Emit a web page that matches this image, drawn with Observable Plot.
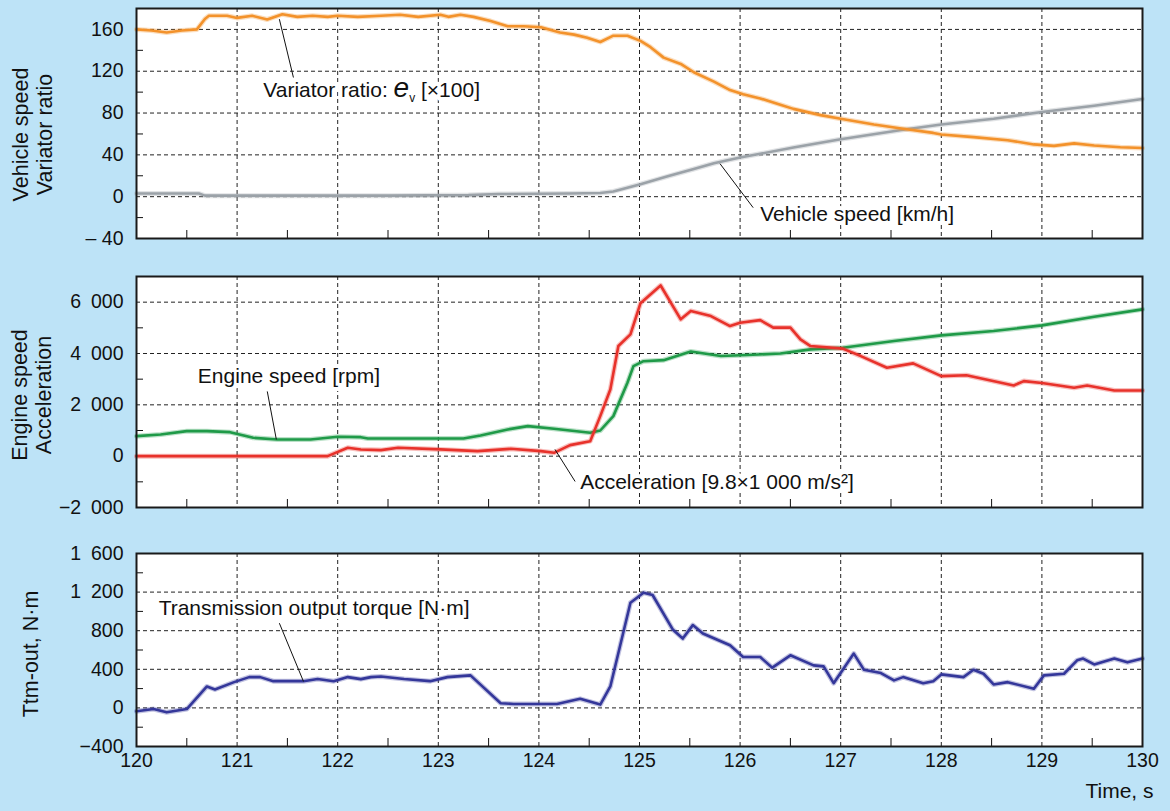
<!DOCTYPE html>
<html><head><meta charset="utf-8">
<script src="https://cdn.jsdelivr.net/npm/d3@7"></script>
<script src="https://cdn.jsdelivr.net/npm/@observablehq/plot@0.6"></script>
<style>
html,body{margin:0;padding:0;background:#bde3f7;}
#chart{position:relative;width:1170px;height:811px;background:#bde3f7;overflow:hidden;font-family:"Liberation Sans",Arial,sans-serif;}
#chart svg{position:absolute;left:0;}
</style></head><body><div id="chart"></div>
<script>
// ---------- time axis ----------
const timeTicks = [120,121,122,123,124,125,126,127,128,129,130];
const timeGrid = [121,122,123,124,125,126,127,128,129];
const timeMinor = [120.5,121.5,122.5,123.5,124.5,125.5,126.5,127.5,128.5,129.5];

// ---------- panel 1: variator ratio & vehicle speed ----------
const ratioT = [120.0,120.15,120.3,120.45,120.6,120.68,120.72,120.9,121.0,121.15,121.3,121.45,121.6,121.75,121.9,122.0,122.2,122.43,122.62,122.8,123.02,123.1,123.22,123.35,123.52,123.69,123.85,124.02,124.21,124.35,124.48,124.61,124.74,124.88,125.01,125.11,125.24,125.41,125.54,125.74,125.9,126.03,126.2,126.4,126.53,126.8,127.0,127.33,127.62,127.92,128.0,128.32,128.66,128.92,129.12,129.32,129.52,129.78,130.0];
const ratioV = [160,159,157,159,160,170,173,173,171,173,169.5,174.5,172,173,172,173,172,173,174,172,174,172,174,172,168,163,163,162,157,155,152,148,154,154,149,143,133,127,119,110,102,98,94,88,84,78,74.5,69,65,61,59.5,57,54,50,48.6,51,49,47.3,46.5];
const speedT = [120.0,120.62,120.68,121.5,122.5,123.3,123.6,124.3,124.61,124.74,125.01,125.28,125.54,125.74,126.0,126.2,126.53,127.0,127.62,128.0,128.52,129.0,129.52,130.0];
const speedV = [3,3,1,1,1,1.5,2.5,3,3.5,5,12,19.5,26.5,32,37.5,41,47,55,64,69,74.5,81,87,93.5];
const y1Ticks = [-40,0,40,80,120,160];
const y1Labels = ["\u2013 40","0","40","80","120","160"];
const y1Grid = [0,40,80,120,160];
const y1Minor = [-20,20,60,100,140];

// ---------- panel 2: engine speed & acceleration ----------
const engineT = [120.0,120.24,120.5,120.7,120.93,121.16,121.4,121.73,122.0,122.23,122.3,123.25,123.42,123.69,123.89,124.15,124.51,124.61,124.74,124.88,124.94,125.04,125.24,125.51,125.81,126.07,126.4,126.7,127.02,127.53,128.0,128.52,129.0,129.52,130.0];
const engineV = [780,846,975,975,936,716,650,650,755,740,690,690,807,1041,1170,1068,912,1000,1560,2860,3510,3700,3740,4080,3900,3940,4000,4160,4225,4485,4705,4875,5095,5435,5720];
const accelT = [120.0,121.9,122.1,122.23,122.43,122.6,123.02,123.39,123.72,124.02,124.15,124.31,124.51,124.61,124.71,124.79,124.91,125.01,125.21,125.41,125.51,125.71,125.9,126.0,126.2,126.33,126.5,126.6,126.7,127.02,127.2,127.46,127.72,128.0,128.25,128.72,128.82,129.0,129.32,129.45,129.72,130.0];
const accelV = [0,0,327,260,236,327,263,195,286,195,130,430,585,1560,2600,4290,4745,5960,6650,5330,5660,5460,5070,5200,5300,5010,5010,4550,4290,4190,3900,3445,3615,3120,3150,2755,2925,2850,2665,2750,2560,2560];
const y2Ticks = [-2000,0,2000,4000,6000];
const y2Labels = ["\u22122\u2002000","0","2\u2002000","4\u2002000","6\u2002000"];
const y2Grid = [0,2000,4000,6000];
const y2Minor = [-1000,1000,3000,5000];

// ---------- panel 3: transmission output torque ----------
const torqueT = [120.0,120.17,120.3,120.5,120.7,120.78,120.97,121.12,121.23,121.36,121.66,121.8,121.96,122.1,122.23,122.33,122.43,122.66,122.92,123.09,123.32,123.62,123.75,124.18,124.41,124.61,124.71,124.91,125.04,125.13,125.33,125.43,125.53,125.63,125.9,126.03,126.2,126.32,126.5,126.73,126.83,126.93,127.13,127.23,127.4,127.53,127.62,127.82,127.92,128.0,128.22,128.32,128.42,128.52,128.66,128.92,129.02,129.22,129.35,129.41,129.52,129.72,129.85,130.0];
const torqueV = [-35,-12,-46,-12,222,191,267,319,319,277,277,300,277,319,298,319,326,300,277,319,337,48,41,41,94,34,222,1090,1194,1170,813,719,858,771,649,527,527,417,545,441,430,256,563,396,361,285,319,256,277,347,319,396,354,243,267,198,337,354,493,511,451,511,472,511];
const y3Ticks = [-400,0,400,800,1200,1600];
const y3Labels = ["\u2212400","0","400","800","1\u2002200","1\u2002600"];
const y3Grid = [0,400,800,1200];
const y3Minor = [-200,200,600,1000,1400];

// ---------- annotations (label position + leader line, in data units) ----------
const VAR_LABEL = "Variator ratio: ev [\u00d7100]";
const annot1 = [
  {label: VAR_LABEL, t: 121.26, v: 102, t1: 121.42, v1: 169.8, t2: 121.56, v2: 114},
  {label: "Vehicle speed [km/h]", t: 126.2, v: -17, t1: 125.80, v1: 31.6, t2: 126.13, v2: -10.5}
];
const annot2 = [
  {label: "Engine speed [rpm]", t: 120.61, v: 3108, t1: 121.30, v1: 2523, t2: 121.39, v2: 651},
  {label: "Acceleration [9.8\u00d71 000 m/s\u00b2]", t: 124.41, v: -1025, t1: 124.16, v1: 261, t2: 124.36, v2: -986}
];
const annot3 = [
  {label: "Transmission output torque [N\u00b7m]", t: 120.22, v: 1035, t1: 121.42, v1: 878, t2: 121.66, v2: 274}
];

const zip = (ts, vs) => ts.map((t, i) => ({t, v: vs[i]}));
const FONT = '"Liberation Sans", Arial, sans-serif';
const PLOT_W = 1170 - 136 - 28;

function panel(o) {
  const plotH = o.height - o.marginTop - o.marginBottom;
  const marks = [
    Plot.frame({fill: "white"}),
    Plot.ruleY(o.grid, {y: d => d, stroke: "#222", strokeWidth: 1, strokeDasharray: "4,3"}),
    Plot.ruleX(timeGrid, {x: d => d, stroke: "#222", strokeWidth: 1, strokeDasharray: "4,3"}),
    Plot.ruleY(o.minor, {y: d => d, stroke: "#111", strokeWidth: 1, insetRight: PLOT_W - 7}),
    Plot.ruleX(timeMinor, {x: d => d, stroke: "#111", strokeWidth: 1, insetTop: plotH - 8})
  ];
  // white halo behind the annotation labels (drawn before the curves)
  marks.push(Plot.text(o.annots, {x: "t", y: "v", text: "label", textAnchor: "start", fontSize: 21, fill: "white", stroke: "white", strokeWidth: 8}));
  for (const s of o.lines) {
    marks.push(Plot.line(s.data, {x: "t", y: "v", stroke: s.color, strokeWidth: 5, strokeOpacity: 0.3}));
    marks.push(Plot.line(s.data, {x: "t", y: "v", stroke: s.color, strokeWidth: 2.6}));
  }
  marks.push(
    Plot.link(o.annots, {x1: "t1", y1: "v1", x2: "t2", y2: "v2", stroke: "#111", strokeWidth: 1}),
    Plot.text(o.annots, {x: "t", y: "v", text: "label", textAnchor: "start", fontSize: 21, fill: "#111"}),
    Plot.text([o.title], {frameAnchor: "left", dx: o.titleDx, dy: o.titleDy, rotate: -90, textAnchor: "middle", lineAnchor: "middle", lineHeight: 1.08, fontSize: 21.5, fill: "#111"}),
    Plot.frame({stroke: "#1a1a1a", strokeWidth: 2})
  );
  if (o.xAxis) {
    marks.push(Plot.text(["Time, s"], {frameAnchor: "bottom-right", dx: 11, dy: 51, textAnchor: "end", fontSize: 21, fill: "#111"}));
  }
  const svg = Plot.plot({
    width: 1170, height: o.height,
    marginLeft: 136, marginRight: 28, marginTop: o.marginTop, marginBottom: o.marginBottom,
    style: {fontFamily: FONT, fontSize: "19.5px", color: "#111", background: "transparent", overflow: "visible"},
    x: {domain: [120, 130], axis: o.xAxis ? "bottom" : null, ticks: timeTicks, tickFormat: d => String(d), tickSize: 0, tickPadding: 7, label: null},
    y: {domain: o.domain, ticks: o.ticks, tickFormat: d => o.labels[o.ticks.indexOf(d)], tickSize: 0, tickPadding: 13, label: null},
    marks
  });
  svg.style.top = o.top + "px";
  // rich text for the variator label (both halo and label)
  d3.select(svg).selectAll("text").filter(function() { return this.textContent === VAR_LABEL; }).each(function() {
    const s = d3.select(this);
    s.text(null);
    s.append("tspan").text("Variator ratio: ");
    s.append("tspan").attr("font-style", "italic").attr("font-size", 28).text("e");
    s.append("tspan").attr("font-size", 12).attr("dy", 5).text("v");
    s.append("tspan").attr("dy", -5).text(" [\u00d7100]");
  });
  document.getElementById("chart").appendChild(svg);
}

panel({top: 0, height: 250, marginTop: 8, marginBottom: 12,
  domain: [-40, 180], ticks: y1Ticks, labels: y1Labels, grid: y1Grid, minor: y1Minor,
  lines: [{data: zip(speedT, speedV), color: "#9ba2a8"}, {data: zip(ratioT, ratioV), color: "#f3922b"}],
  annots: annot1, title: "Vehicle speed\nVariator ratio", titleDx: -104, titleDy: 11});

panel({top: 260, height: 260, marginTop: 16, marginBottom: 13,
  domain: [-2000, 7000], ticks: y2Ticks, labels: y2Labels, grid: y2Grid, minor: y2Minor,
  lines: [{data: zip(engineT, engineV), color: "#1f9a48"}, {data: zip(accelT, accelV), color: "#e8322b"}],
  annots: annot2, title: "Engine speed\nAcceleration", titleDx: -105, titleDy: 3});

panel({top: 530, height: 281, marginTop: 23, marginBottom: 65,
  domain: [-400, 1600], ticks: y3Ticks, labels: y3Labels, grid: y3Grid, minor: y3Minor,
  lines: [{data: zip(torqueT, torqueV), color: "#34379a"}],
  annots: annot3, title: "Ttm-out, N\u00b7m", titleDx: -106, titleDy: 4, xAxis: true});
</script></body></html>
